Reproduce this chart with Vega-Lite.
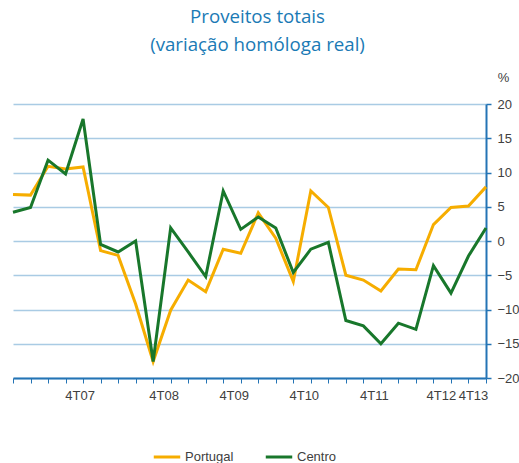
{
  "$schema": "https://vega.github.io/schema/vega-lite/v6.json",
  "width": 473,
  "height": 274,
  "autosize": {"type": "none"},
  "padding": {"left": 13, "top": 104, "right": 33, "bottom": 85},
  "background": "white",
  "title": {
    "text": ["Proveitos totais", "(variação homóloga real)"],
    "font": "Open Sans",
    "fontSize": 18.7,
    "fontWeight": "normal",
    "color": "#1a7ab5",
    "lineHeight": 28,
    "anchor": "middle",
    "dx": 8,
    "offset": 16
  },
  "config": {
    "view": {"stroke": null},
    "axis": {"labelFont": "Liberation Sans", "labelColor": "#404040", "labelFontSize": 13}
  },
  "data": {
    "values": [
      {"t": "1T07", "serie": "Portugal", "v": 6.8},
      {"t": "2T07", "serie": "Portugal", "v": 6.7},
      {"t": "3T07", "serie": "Portugal", "v": 10.9},
      {"t": "4T07", "serie": "Portugal", "v": 10.5},
      {"t": "1T08", "serie": "Portugal", "v": 10.8},
      {"t": "2T08", "serie": "Portugal", "v": -1.4},
      {"t": "3T08", "serie": "Portugal", "v": -2.1},
      {"t": "4T08", "serie": "Portugal", "v": -9.2},
      {"t": "1T09", "serie": "Portugal", "v": -17.6},
      {"t": "2T09", "serie": "Portugal", "v": -10.1},
      {"t": "3T09", "serie": "Portugal", "v": -5.7},
      {"t": "4T09", "serie": "Portugal", "v": -7.4},
      {"t": "1T10", "serie": "Portugal", "v": -1.2},
      {"t": "2T10", "serie": "Portugal", "v": -1.8},
      {"t": "3T10", "serie": "Portugal", "v": 4.1},
      {"t": "4T10", "serie": "Portugal", "v": 0.4},
      {"t": "1T11", "serie": "Portugal", "v": -5.9},
      {"t": "2T11", "serie": "Portugal", "v": 7.3},
      {"t": "3T11", "serie": "Portugal", "v": 4.9},
      {"t": "4T11", "serie": "Portugal", "v": -5.0},
      {"t": "1T12", "serie": "Portugal", "v": -5.7},
      {"t": "2T12", "serie": "Portugal", "v": -7.3},
      {"t": "3T12", "serie": "Portugal", "v": -4.1},
      {"t": "4T12", "serie": "Portugal", "v": -4.2},
      {"t": "1T13", "serie": "Portugal", "v": 2.4},
      {"t": "2T13", "serie": "Portugal", "v": 4.9},
      {"t": "3T13", "serie": "Portugal", "v": 5.1},
      {"t": "4T13", "serie": "Portugal", "v": 7.9},
      {"t": "1T07", "serie": "Centro", "v": 4.2},
      {"t": "2T07", "serie": "Centro", "v": 4.9},
      {"t": "3T07", "serie": "Centro", "v": 11.8},
      {"t": "4T07", "serie": "Centro", "v": 9.8},
      {"t": "1T08", "serie": "Centro", "v": 17.8},
      {"t": "2T08", "serie": "Centro", "v": -0.5},
      {"t": "3T08", "serie": "Centro", "v": -1.6},
      {"t": "4T08", "serie": "Centro", "v": 0.0},
      {"t": "1T09", "serie": "Centro", "v": -17.6},
      {"t": "2T09", "serie": "Centro", "v": 1.9},
      {"t": "3T09", "serie": "Centro", "v": -1.6},
      {"t": "4T09", "serie": "Centro", "v": -5.2},
      {"t": "1T10", "serie": "Centro", "v": 7.3},
      {"t": "2T10", "serie": "Centro", "v": 1.7},
      {"t": "3T10", "serie": "Centro", "v": 3.5},
      {"t": "4T10", "serie": "Centro", "v": 1.9},
      {"t": "1T11", "serie": "Centro", "v": -4.6},
      {"t": "2T11", "serie": "Centro", "v": -1.2},
      {"t": "3T11", "serie": "Centro", "v": -0.2},
      {"t": "4T11", "serie": "Centro", "v": -11.6},
      {"t": "1T12", "serie": "Centro", "v": -12.4},
      {"t": "2T12", "serie": "Centro", "v": -15.0},
      {"t": "3T12", "serie": "Centro", "v": -12.0},
      {"t": "4T12", "serie": "Centro", "v": -12.9},
      {"t": "1T13", "serie": "Centro", "v": -3.6},
      {"t": "2T13", "serie": "Centro", "v": -7.6},
      {"t": "3T13", "serie": "Centro", "v": -2.2},
      {"t": "4T13", "serie": "Centro", "v": 1.9}
    ]
  },
  "mark": {"type": "line", "strokeWidth": 3, "strokeJoin": "miter"},
  "encoding": {
    "x": {
      "field": "t",
      "type": "ordinal",
      "sort": null,
      "scale": {"type": "point", "padding": 0},
      "axis": {
        "title": null,
        "labelAngle": 0,
        "labelExpr": "indexof(datum.label, '4T') == 0 ? datum.label : ''",
        "labelOffset": {"expr": "datum.label == '4T07' ? 14 : (datum.label == '4T13' ? -13 : (datum.label == '4T12' ? 25 : 28))"},
        "labelFlush": false,
        "labelPadding": 6,
        "domainColor": "#2474b5",
        "domainWidth": 2,
        "tickColor": "#2474b5",
        "tickSize": 5,
        "tickWidth": 1,
        "grid": false
      }
    },
    "y": {
      "field": "v",
      "type": "quantitative",
      "scale": {"domain": [-20, 20], "nice": false},
      "axis": {
        "orient": "right",
        "values": [-20, -15, -10, -5, 0, 5, 10, 15, 20],
        "title": "%",
        "titleAngle": 0,
        "titleX": 17,
        "titleY": -27,
        "titleAlign": "center",
        "titleBaseline": "middle",
        "titleFont": "Liberation Sans",
        "titleFontSize": 13,
        "titleFontWeight": "normal",
        "titleColor": "#404040",
        "domainColor": "#2474b5",
        "domainWidth": 2,
        "tickColor": "#2474b5",
        "tickSize": 5,
        "tickWidth": 1.5,
        "labelPadding": 6,
        "grid": true,
        "gridColor": "#a9cbe4",
        "gridWidth": 1.5
      }
    },
    "color": {
      "field": "serie",
      "type": "nominal",
      "scale": {"domain": ["Portugal", "Centro"], "range": ["#f6ad00", "#18772b"]},
      "legend": {
        "title": null,
        "orient": "none",
        "direction": "horizontal",
        "legendX": 139,
        "legendY": 338,
        "symbolType": "stroke",
        "symbolSize": 700,
        "symbolStrokeWidth": 3,
        "labelFont": "Liberation Sans",
        "labelFontSize": 13,
        "labelColor": "#404040",
        "labelOffset": 3,
        "columnPadding": 25
      }
    }
  }
}
